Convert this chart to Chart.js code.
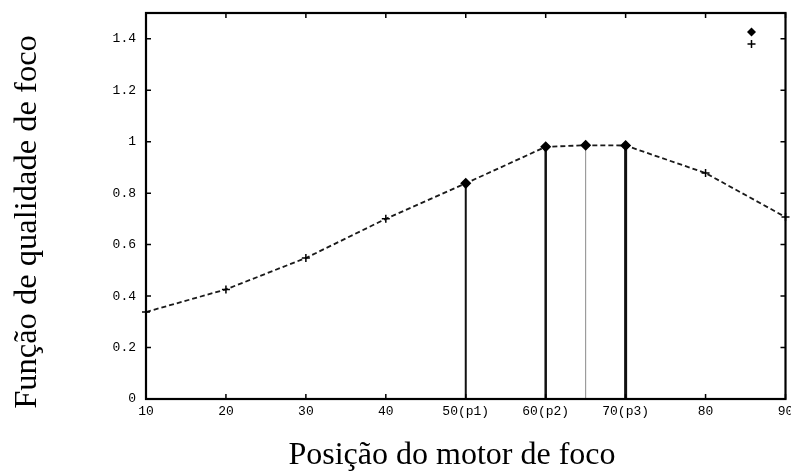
<!DOCTYPE html>
<html>
<head>
<meta charset="utf-8">
<script src="https://cdn.jsdelivr.net/npm/chart.js@4.4.1/dist/chart.umd.min.js"></script>
<style>
  html, body { margin: 0; padding: 0; background: #fff; }
  #wrap { width: 791px; height: 471px; }
</style>
</head>
<body>
<div id="wrap"><canvas id="focus"></canvas></div>
<script>
// focus motor sweep
const positions = [10, 20, 30, 40, 50, 60, 65, 70, 80, 90]
const quality = [0.338, 0.426, 0.548, 0.70, 0.838, 0.98, 0.986, 0.985, 0.878, 0.707]
// positions probed by the search (drawn as diamonds with a stem)
const probes = [50, 60, 65, 70]

const xTicks = [10, 20, 30, 40, 50, 60, 70, 80, 90]
const xTickLabels = ['10', '20', '30', '40', '50(p1)', '60(p2)', '70(p3)', '80', '90']
const yTicks = [0, 0.2, 0.4, 0.6, 0.8, 1, 1.2, 1.4]
const yTickLabels = ['0', '0.2', '0.4', '0.6', '0.8', '1', '1.2', '1.4']

const xTitle = 'Posição do motor de foco'
const yTitle = 'Função de qualidade de foco'

const mono = "'Liberation Mono', 'DejaVu Sans Mono', monospace"
const serif = "'Liberation Serif', 'DejaVu Serif', serif"

const isProbe = x => probes.includes(x)

// stems under each probed point, widths per probe
const stemWidth = {50: 2, 60: 2.5, 65: 1, 70: 3}
const stemColor = {50: '#111', 60: '#111', 65: '#8a8a8a', 70: '#111'}
const stems = probes.map(p => {
    const y = quality[positions.indexOf(p)]
    return {
        data: [{x: p, y: 0}, {x: p, y: y}],
        borderColor: stemColor[p],
        borderWidth: stemWidth[p],
        pointRadius: 0,
        order: 2
    }
})

const curve = {
    data: positions.map((x, i) => ({x: x, y: quality[i]})),
    borderColor: '#1a1a1a',
    borderWidth: 1.8,
    borderDash: [5, 3],
    tension: 0,
    clip: false,
    order: 1,
    pointStyle: ctx => isProbe(positions[ctx.dataIndex]) ? 'rectRot' : 'cross',
    pointRadius: ctx => isProbe(positions[ctx.dataIndex]) ? 4.5 : 4,
    pointBackgroundColor: '#000',
    pointBorderColor: '#000',
    pointBorderWidth: 1.5
}

function drawMarker(c, kind, x, y, r){
    c.beginPath()
    if (kind == 'diamond'){
        c.moveTo(x, y - r); c.lineTo(x + r, y); c.lineTo(x, y + r); c.lineTo(x - r, y)
        c.closePath()
        c.fill()
    } else {
        c.moveTo(x - r, y); c.lineTo(x + r, y)
        c.moveTo(x, y - r); c.lineTo(x, y + r)
        c.stroke()
    }
}

// box frame, inward ticks, axis titles and the key in the corner
const frame = {
    id: 'frame',
    afterDraw(chart){
        const c = chart.ctx
        const a = chart.chartArea
        const xs = chart.scales.x, ys = chart.scales.y
        const len = 5
        c.save()
        c.strokeStyle = '#000'
        c.fillStyle = '#000'
        c.lineWidth = 1.5
        xTicks.forEach(v => {
            const px = xs.getPixelForValue(v)
            c.beginPath()
            c.moveTo(px, a.bottom); c.lineTo(px, a.bottom - len)
            c.moveTo(px, a.top); c.lineTo(px, a.top + len)
            c.stroke()
        })
        yTicks.forEach(v => {
            const py = ys.getPixelForValue(v)
            c.beginPath()
            c.moveTo(a.left, py); c.lineTo(a.left + len, py)
            c.moveTo(a.right, py); c.lineTo(a.right - len, py)
            c.stroke()
        })
        c.lineWidth = 2.2
        c.strokeRect(a.left, a.top, a.right - a.left, a.bottom - a.top)

        c.lineWidth = 1.5
        drawMarker(c, 'diamond', a.right - 34, a.top + 19, 4.5)
        drawMarker(c, 'cross', a.right - 34, a.top + 31, 4)

        c.textAlign = 'center'
        c.textBaseline = 'alphabetic'
        c.font = '32px ' + serif
        c.fillText(xTitle, 452, 464)
        c.translate(36, 222)
        c.rotate(-Math.PI / 2)
        c.font = '32.5px ' + serif
        c.fillText(yTitle, 0, 0)
        c.restore()
    }
}

new Chart(document.querySelector('#focus'), {
    type: 'line',
    data: { datasets: [curve, ...stems] },
    options: {
        responsive: true,
        maintainAspectRatio: false,
        animation: false,
        layout: { padding: { top: 13, right: 5, left: 0, bottom: 0 } },
        plugins: { legend: { display: false }, tooltip: { enabled: false } },
        scales: {
            x: {
                type: 'linear',
                min: 10,
                max: 90,
                afterBuildTicks: s => { s.ticks = xTicks.map(v => ({value: v})) },
                afterFit: s => { s.height = 72; s.paddingLeft = 0; s.paddingRight = 0 },
                grid: { display: false, drawTicks: false },
                border: { display: false },
                ticks: {
                    autoSkip: false,
                    maxRotation: 0,
                    padding: 5,
                    color: '#000',
                    font: { family: mono, size: 13 },
                    callback: v => xTickLabels[xTicks.indexOf(v)]
                }
            },
            y: {
                min: 0,
                max: 1.5,
                afterBuildTicks: s => { s.ticks = yTicks.map(v => ({value: v})) },
                afterFit: s => { s.width = 146; s.paddingTop = 0; s.paddingBottom = 0 },
                grid: { display: false, drawTicks: false },
                border: { display: false },
                ticks: {
                    padding: 10,
                    color: '#000',
                    font: { family: mono, size: 13 },
                    callback: v => yTickLabels[yTicks.indexOf(v)]
                }
            }
        }
    },
    plugins: [frame]
})
</script>
</body>
</html>
